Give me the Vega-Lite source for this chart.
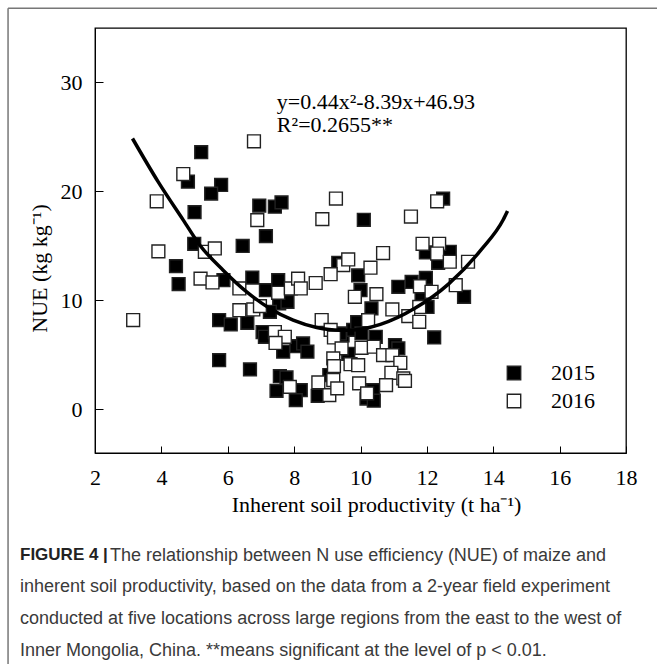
{
  "$schema": "https://vega.github.io/schema/vega-lite/v6.json",
  "width": 531,
  "height": 425,
  "autosize": {"type": "none"},
  "padding": {"left": 95, "top": 28, "right": 31, "bottom": 211},
  "background": "white",
  "config": {
    "view": {"stroke": "#000", "strokeWidth": 1.3},
    "font": "Liberation Serif"
  },
  "title": {
    "text": "FIGURE 4 |",
    "subtitle": [
      "\u200b\u00a0\u00a0\u00a0\u00a0\u00a0\u00a0\u00a0\u00a0\u00a0\u00a0\u00a0\u00a0\u00a0\u00a0\u00a0\u00a0\u00a0\u00a0The relationship between N use efficiency (NUE) of maize and",
      "inherent soil productivity, based on the data from a 2-year field experiment",
      "conducted at five locations across large regions from the east to the west of",
      "Inner Mongolia, China. **means significant at the level of p < 0.01."
    ],
    "orient": "bottom",
    "anchor": "start",
    "frame": "group",
    "dx": -75,
    "offset": -125,
    "font": "Liberation Sans",
    "fontSize": 17,
    "fontWeight": "bold",
    "color": "#222",
    "subtitleFont": "Liberation Sans",
    "subtitleFontSize": 18,
    "subtitleColor": "#3a3a3a",
    "subtitleLineHeight": 31.7,
    "subtitlePadding": -17
  },
  "layer": [
    {
      "data": {"values": [
        {"year":"2015","x":5.2,"y":23.6},{"year":"2015","x":4.8,"y":20.9},{"year":"2015","x":5.8,"y":20.6},
        {"year":"2015","x":5.5,"y":19.8},{"year":"2015","x":5.0,"y":18.1},{"year":"2015","x":6.95,"y":18.7},
        {"year":"2015","x":7.42,"y":18.6},{"year":"2015","x":7.62,"y":19.0},{"year":"2015","x":10.1,"y":17.4},
        {"year":"2015","x":12.49,"y":19.35},{"year":"2015","x":7.15,"y":15.9},{"year":"2015","x":4.99,"y":15.2},
        {"year":"2015","x":6.45,"y":15.0},{"year":"2015","x":4.44,"y":13.15},{"year":"2015","x":4.52,"y":11.5},
        {"year":"2015","x":5.87,"y":11.86},{"year":"2015","x":6.74,"y":12.1},{"year":"2015","x":7.15,"y":10.94},
        {"year":"2015","x":7.52,"y":11.86},{"year":"2015","x":7.55,"y":9.72},{"year":"2015","x":7.8,"y":9.87},
        {"year":"2015","x":7.27,"y":8.96},{"year":"2015","x":5.74,"y":8.2},{"year":"2015","x":6.09,"y":7.8},
        {"year":"2015","x":6.59,"y":7.95},{"year":"2015","x":7.05,"y":7.1},{"year":"2015","x":7.12,"y":6.66},
        {"year":"2015","x":7.67,"y":5.3},{"year":"2015","x":8.07,"y":5.8},{"year":"2015","x":8.27,"y":6.05},
        {"year":"2015","x":8.4,"y":5.3},{"year":"2015","x":9.46,"y":6.8},{"year":"2015","x":9.38,"y":6.97},
        {"year":"2015","x":9.63,"y":5.1},{"year":"2015","x":9.06,"y":3.15},{"year":"2015","x":8.71,"y":1.25},
        {"year":"2015","x":7.57,"y":3.05},{"year":"2015","x":7.77,"y":2.93},{"year":"2015","x":7.47,"y":1.7},
        {"year":"2015","x":8.2,"y":1.77},{"year":"2015","x":8.05,"y":0.85},{"year":"2015","x":5.74,"y":4.52},
        {"year":"2015","x":6.67,"y":3.67},{"year":"2015","x":10.18,"y":1.0},{"year":"2015","x":10.38,"y":1.77},
        {"year":"2015","x":10.4,"y":0.8},{"year":"2015","x":9.93,"y":12.3},{"year":"2015","x":10.0,"y":10.94},
        {"year":"2015","x":9.33,"y":13.45},{"year":"2015","x":9.78,"y":7.3},{"year":"2015","x":9.9,"y":8.0},
        {"year":"2015","x":10.03,"y":6.97},{"year":"2015","x":10.46,"y":6.66},{"year":"2015","x":11.04,"y":5.9},
        {"year":"2015","x":11.14,"y":5.6},{"year":"2015","x":10.33,"y":9.27},{"year":"2015","x":11.97,"y":14.4},
        {"year":"2015","x":12.69,"y":14.46},{"year":"2015","x":12.34,"y":13.45},{"year":"2015","x":11.14,"y":11.25},
        {"year":"2015","x":11.54,"y":11.7},{"year":"2015","x":11.97,"y":12.07},{"year":"2015","x":11.84,"y":10.18},
        {"year":"2015","x":12.02,"y":9.4},{"year":"2015","x":12.22,"y":6.6},{"year":"2015","x":13.12,"y":10.33},
        {"year":"2016","x":6.79,"y":24.6},{"year":"2016","x":4.66,"y":21.6},{"year":"2016","x":3.86,"y":19.1},
        {"year":"2016","x":9.26,"y":19.35},{"year":"2016","x":8.85,"y":17.46},{"year":"2016","x":6.89,"y":17.37},
        {"year":"2016","x":12.31,"y":19.1},{"year":"2016","x":11.52,"y":17.7},{"year":"2016","x":3.91,"y":14.5},
        {"year":"2016","x":5.31,"y":14.46},{"year":"2016","x":5.61,"y":14.77},{"year":"2016","x":5.18,"y":12.0},
        {"year":"2016","x":5.54,"y":11.65},{"year":"2016","x":6.35,"y":11.1},{"year":"2016","x":7.52,"y":10.7},
        {"year":"2016","x":7.9,"y":11.1},{"year":"2016","x":8.12,"y":12.0},{"year":"2016","x":8.2,"y":11.1},
        {"year":"2016","x":8.65,"y":11.6},{"year":"2016","x":6.35,"y":9.1},{"year":"2016","x":6.77,"y":9.17},
        {"year":"2016","x":6.97,"y":9.48},{"year":"2016","x":3.15,"y":8.2},{"year":"2016","x":7.42,"y":7.1},
        {"year":"2016","x":7.72,"y":6.66},{"year":"2016","x":7.44,"y":6.1},{"year":"2016","x":8.83,"y":8.2},
        {"year":"2016","x":9.1,"y":7.3},{"year":"2016","x":9.2,"y":6.6},{"year":"2016","x":9.43,"y":5.6},
        {"year":"2016","x":10.03,"y":5.65},{"year":"2016","x":9.18,"y":4.68},{"year":"2016","x":9.2,"y":3.97},
        {"year":"2016","x":9.7,"y":4.15},{"year":"2016","x":9.93,"y":4.06},{"year":"2016","x":9.18,"y":2.69},
        {"year":"2016","x":8.73,"y":2.48},{"year":"2016","x":9.06,"y":1.31},{"year":"2016","x":9.3,"y":1.93},
        {"year":"2016","x":7.87,"y":2.07},{"year":"2016","x":9.96,"y":2.39},{"year":"2016","x":10.2,"y":1.47},
        {"year":"2016","x":9.83,"y":10.33},{"year":"2016","x":9.48,"y":13.24},{"year":"2016","x":9.63,"y":13.76},
        {"year":"2016","x":9.1,"y":12.41},{"year":"2016","x":10.3,"y":13.0},{"year":"2016","x":10.68,"y":14.35},
        {"year":"2016","x":11.87,"y":15.2},{"year":"2016","x":12.37,"y":15.2},{"year":"2016","x":12.31,"y":14.3},
        {"year":"2016","x":12.69,"y":13.55},{"year":"2016","x":13.24,"y":13.55},{"year":"2016","x":10.48,"y":10.58},
        {"year":"2016","x":11.79,"y":11.3},{"year":"2016","x":12.14,"y":10.79},{"year":"2016","x":11.77,"y":9.4},
        {"year":"2016","x":11.44,"y":8.56},{"year":"2016","x":11.77,"y":8.04},{"year":"2016","x":12.87,"y":11.4},
        {"year":"2016","x":10.96,"y":9.17},{"year":"2016","x":10.23,"y":8.19},{"year":"2016","x":10.4,"y":5.75},
        {"year":"2016","x":10.68,"y":4.98},{"year":"2016","x":10.96,"y":4.98},{"year":"2016","x":11.2,"y":4.28},
        {"year":"2016","x":10.93,"y":3.36},{"year":"2016","x":11.29,"y":2.84},{"year":"2016","x":11.34,"y":2.62},
        {"year":"2016","x":10.77,"y":2.23}
      ]},
      "mark": {"type": "point", "shape": "square", "filled": true, "size": 165, "stroke": "#222", "strokeWidth": 1.4, "opacity": 1},
      "encoding": {
        "x": {
          "field": "x",
          "type": "quantitative",
          "scale": {"domain": [2, 18], "nice": false, "zero": false},
          "axis": {
            "values": [2, 4, 6, 8, 10, 12, 14, 16, 18],
            "grid": false,
            "tickSize": -7,
            "tickColor": "#000",
            "domainColor": "#000",
            "labelFont": "Liberation Serif",
            "labelFontSize": 22,
            "labelColor": "#000",
            "labelPadding": 21,
            "labelFlush": false,
            "title": "Inherent soil productivity (t ha\u207b\u00b9)",
            "titleFont": "Liberation Serif",
            "titleFontSize": 22,
            "titleFontWeight": "normal",
            "titleColor": "#000",
            "titleX": 281,
            "titlePadding": 6
          }
        },
        "y": {
          "field": "y",
          "type": "quantitative",
          "scale": {"domain": [-4, 35], "nice": false, "zero": false},
          "axis": {
            "values": [0, 10, 20, 30],
            "grid": false,
            "tickSize": -8,
            "tickColor": "#000",
            "domainColor": "#000",
            "labelFont": "Liberation Serif",
            "labelFontSize": 22,
            "labelColor": "#000",
            "labelPadding": 21,
            "title": "NUE (kg kg\u207b\u00b9)",
            "titleFont": "Liberation Serif",
            "titleFontSize": 22,
            "titleFontWeight": "normal",
            "titleColor": "#000",
            "titleY": 240,
            "titlePadding": 9
          }
        },
        "fill": {
          "field": "year",
          "type": "nominal",
          "scale": {"domain": ["2015", "2016"], "range": ["#000000", "#ffffff"]},
          "legend": {
            "title": null,
            "orient": "none",
            "legendX": 408,
            "legendY": 334,
            "symbolType": "square",
            "symbolSize": 180,
            "symbolStrokeColor": "#222",
            "symbolStrokeWidth": 1.4,
            "symbolOpacity": 1,
            "labelFont": "Liberation Serif",
            "labelFontSize": 22,
            "labelColor": "#000",
            "labelOffset": 26,
            "rowPadding": 6,
            "padding": 0
          }
        }
      }
    },
    {
      "data": {"values": [
        {"x":3.13,"y":24.86},{"x":3.9,"y":20.9},{"x":4.66,"y":17.37},{"x":5.16,"y":15.07},
        {"x":5.86,"y":12.78},{"x":6.57,"y":10.79},{"x":7.27,"y":9.27},{"x":7.97,"y":8.19},
        {"x":8.68,"y":7.52},{"x":9.38,"y":7.27},{"x":9.68,"y":7.27},{"x":10.6,"y":7.8},
        {"x":11.65,"y":9.3},{"x":12.65,"y":11.5},{"x":13.65,"y":14.7},{"x":14.3,"y":17.4},{"x":14.43,"y":18.2}
      ]},
      "mark": {"type": "line", "color": "#000", "strokeWidth": 3.5, "interpolate": "monotone"},
      "encoding": {
        "x": {"field": "x", "type": "quantitative"},
        "y": {"field": "y", "type": "quantitative"}
      }
    },
    {
      "data": {"values": [
        {"x": 7.48, "y": 27.55, "label": "y=0.44x\u00b2-8.39x+46.93"},
        {"x": 7.48, "y": 25.45, "label": "R\u00b2=0.2655**"}
      ]},
      "mark": {"type": "text", "align": "left", "baseline": "alphabetic", "font": "Liberation Serif", "fontSize": 22, "color": "#000"},
      "encoding": {
        "x": {"field": "x", "type": "quantitative"},
        "y": {"field": "y", "type": "quantitative"},
        "text": {"field": "label", "type": "nominal"}
      }
    },
    {
      "data": {"values": [{"edge": "top"}]},
      "mark": {"type": "rule", "color": "#777", "strokeWidth": 1.5, "clip": false},
      "encoding": {
        "x": {"datum": -0.62, "type": "quantitative"},
        "x2": {"datum": 19.5},
        "y": {"datum": 36.82, "type": "quantitative"}
      }
    },
    {
      "data": {"values": [{"edge": "left"}]},
      "mark": {"type": "rule", "color": "#777", "strokeWidth": 1.5, "clip": false},
      "encoding": {
        "x": {"datum": -0.62, "type": "quantitative"},
        "y": {"datum": 36.82, "type": "quantitative"},
        "y2": {"datum": -24}
      }
    }
  ]
}
